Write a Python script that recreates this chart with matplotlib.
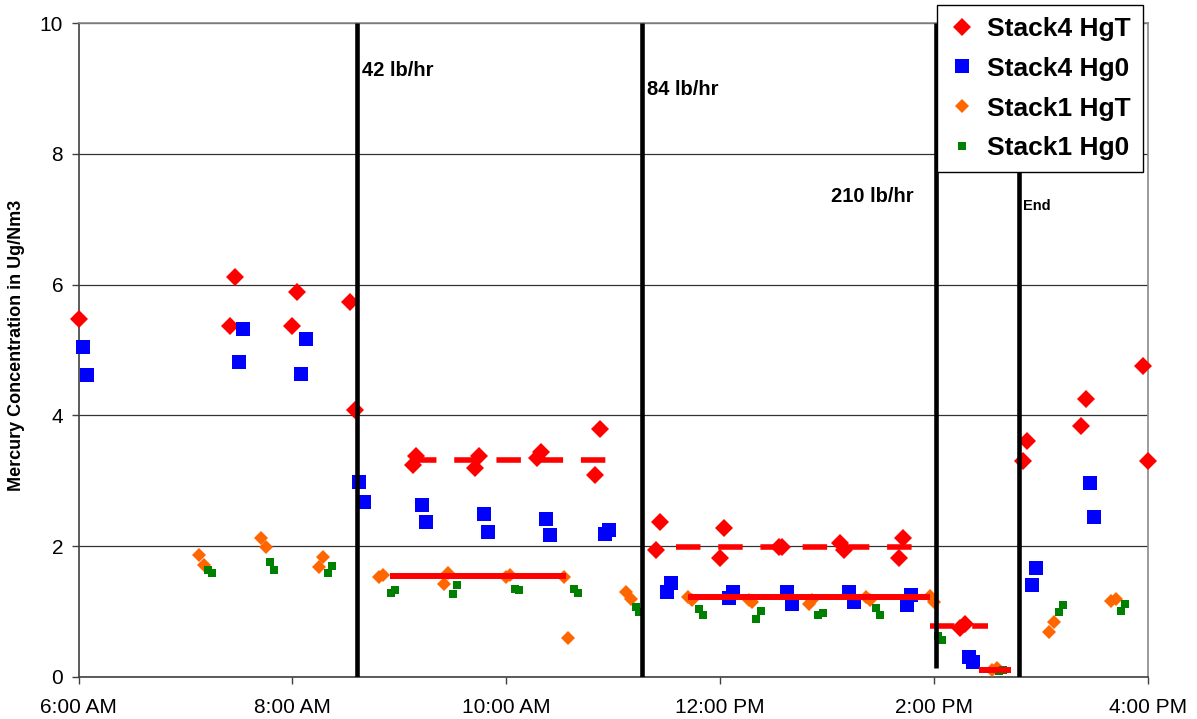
import matplotlib.pyplot as plt

plt.rcParams['font.family'] = ['Liberation Sans', 'DejaVu Sans']

# Data (time in decimal hours, concentration in ug/Nm3)
t4_hgt = [6.00, 7.42, 7.46, 8.00, 8.04, 8.54, 8.59, 9.13, 9.16, 9.71, 9.75, 10.29, 10.33,
          10.83, 10.88, 11.40, 11.44, 12.00, 12.04, 12.55, 12.58, 13.12, 13.16, 13.67, 13.71,
          14.24, 14.29, 14.83, 14.87, 15.38, 15.42, 15.96, 16.00]
v4_hgt = [5.48, 5.36, 6.11, 5.36, 5.88, 5.73, 4.08, 3.24, 3.37, 3.19, 3.37, 3.34, 3.44,
          3.09, 3.79, 1.94, 2.36, 1.81, 2.28, 1.99, 1.99, 2.04, 1.94, 1.81, 2.13,
          0.74, 0.81, 3.30, 3.61, 3.83, 4.25, 4.76, 3.30]

t4_hg0 = [6.04, 6.08, 7.50, 7.54, 8.08, 8.13, 8.62, 8.67, 9.21, 9.25, 9.79, 9.83, 10.37, 10.41,
          10.92, 10.96, 11.50, 11.54, 12.08, 12.12, 12.63, 12.67, 13.21, 13.25, 13.75, 13.79,
          14.33, 14.37, 14.92, 14.96, 15.46, 15.50]
v4_hg0 = [5.04, 4.61, 4.81, 5.32, 4.63, 5.17, 2.98, 2.68, 2.63, 2.36, 2.49, 2.22, 2.42, 2.17,
          2.19, 2.24, 1.30, 1.43, 1.21, 1.29, 1.30, 1.12, 1.30, 1.15, 1.10, 1.25,
          0.30, 0.22, 1.41, 1.66, 2.97, 2.45]

t1_hgt = [7.13, 7.17, 7.71, 7.75, 8.25, 8.29, 8.81, 8.85, 9.42, 9.46, 10.00, 10.04, 10.54, 10.58,
          11.12, 11.17, 11.70, 11.74, 12.27, 12.30, 12.83, 12.86, 13.37, 13.40, 13.96, 14.00,
          14.54, 14.59, 15.08, 15.12, 15.66, 15.70]
v1_hgt = [1.86, 1.71, 2.13, 1.99, 1.68, 1.83, 1.52, 1.55, 1.42, 1.58, 1.53, 1.55, 1.53, 0.60,
          1.29, 1.19, 1.22, 1.18, 1.18, 1.15, 1.12, 1.17, 1.22, 1.17, 1.24, 1.15,
          0.10, 0.14, 0.69, 0.84, 1.16, 1.19]

t1_hg0 = [7.21, 7.25, 7.79, 7.83, 8.33, 8.37, 8.92, 8.96, 9.50, 9.54, 10.08, 10.12, 10.63, 10.67,
          11.21, 11.24, 11.80, 11.84, 12.34, 12.38, 12.92, 12.96, 13.46, 13.50, 14.04, 14.08,
          14.61, 14.65, 15.17, 15.21, 15.75, 15.79]
v1_hg0 = [1.63, 1.58, 1.76, 1.63, 1.58, 1.69, 1.28, 1.33, 1.27, 1.40, 1.35, 1.32, 1.34, 1.28,
          1.06, 0.99, 1.03, 0.95, 0.89, 1.01, 0.95, 0.98, 1.05, 0.94, 0.62, 0.56,
          0.08, 0.10, 0.99, 1.09, 1.00, 1.12]

# average lines: (start, end, level)
avg_stack4 = [(9.12, 11.02, 3.32), (11.59, 13.83, 1.99), (13.965, 14.51, 0.78)]
avg_stack1 = [(8.91, 10.56, 1.54), (11.70, 13.965, 1.215), (14.42, 14.72, 0.11)]

# feed-rate change markers: (time, bottom, top)
feed_lines = [(8.603, 0, 10), (11.272, 0, 10), (14.019, 0.13, 10), (14.798, 0, 7.98)]
feed_labels = ["42 lb/hr", "84 lb/hr", "210 lb/hr", "End"]
label_pos = [(8.652, 9.28), (11.318, 8.98), (13.04, 7.35), (14.836, 7.20)]
label_size = [14.5, 14.5, 14.5, 10.5]

xticks = [6, 8, 10, 12, 14, 16]
xticklabels = ["6:00 AM", "8:00 AM", "10:00 AM", "12:00 PM", "2:00 PM", "4:00 PM"]

fig = plt.figure(figsize=(11.97, 7.19), dpi=100)
ax = fig.add_axes([0.0656, 0.0588, 0.8932, 0.9089])

ax.plot(t4_hgt, v4_hgt, 'D', color='#FF0000', ms=9, mew=0, label='Stack4 HgT', clip_on=False, zorder=3)
ax.plot(t4_hg0, v4_hg0, 's', color='#0000FF', ms=9.4, mew=0, label='Stack4 Hg0', clip_on=False, zorder=3)
ax.plot(t1_hgt, v1_hgt, 'D', color='#FF6600', ms=6.8, mew=0, label='Stack1 HgT', clip_on=False, zorder=3)
ax.plot(t1_hg0, v1_hg0, 's', color='#008000', ms=6, mew=0, label='Stack1 Hg0', clip_on=False, zorder=3)

for x0, x1, lvl in avg_stack4:
    ax.plot([x0, x1], [lvl, lvl], color='#FF0000', lw=4, linestyle=(0, (4.4, 3.2)),
            solid_capstyle='butt', dash_capstyle='butt', zorder=4)
for x0, x1, lvl in avg_stack1:
    ax.plot([x0, x1], [lvl, lvl], color='#FF0000', lw=4.3, solid_capstyle='butt', zorder=4)

for x, y0, y1 in feed_lines:
    ax.plot([x, x], [y0, y1], color='black', lw=3.3, solid_capstyle='butt', zorder=5)

for txt, (x, y), fs in zip(feed_labels, label_pos, label_size):
    ax.text(x, y, txt, fontsize=fs, fontweight='bold', ha='left', va='center', zorder=6)

ax.set_xlim(6, 16)
ax.set_ylim(0, 10)
ax.set_xticks(xticks)
ax.set_xticklabels(xticklabels)
ax.set_yticks([0, 2, 4, 6, 8, 10])
ax.tick_params(direction='out', length=5, width=1, pad=6, labelsize=15, colors='#404040',
               labelcolor='black')
ax.tick_params(axis='x', pad=10)
ax.yaxis.grid(True, color='#333333', lw=0.9)
ax.set_axisbelow(True)
for side in ['left', 'bottom']:
    ax.spines[side].set_color('#404040')
    ax.spines[side].set_linewidth(1.2)
for side in ['top', 'right']:
    ax.spines[side].set_color('#8a8a8a')
    ax.spines[side].set_linewidth(1.2)

fig.text(17 / 1197, 1 - 345 / 719, "Mercury Concentration in Ug/Nm3", rotation=90,
         fontsize=13, fontweight='bold', ha='center', va='center')

leg = fig.legend(loc='upper left', bbox_to_anchor=(937 / 1197, 1 - 5 / 719), borderaxespad=0,
                 numpoints=1, prop={'size': 19, 'weight': 'bold'}, fancybox=False,
                 frameon=True, edgecolor='black', framealpha=1, borderpad=0.45,
                 handlelength=1.0, handletextpad=0.45, labelspacing=0.6)
leg.get_frame().set_linewidth(1.0)

fig.savefig('out.png', dpi=100)
